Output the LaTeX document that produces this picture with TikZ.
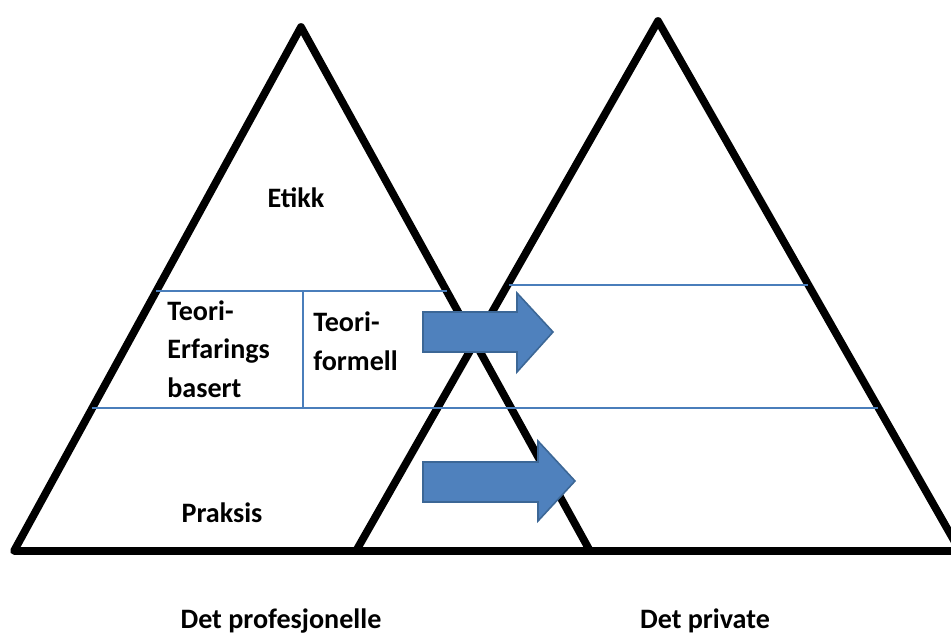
\documentclass[tikz,border=0pt]{standalone}
\usepackage{fontspec}
\setmainfont{Carlito}
\definecolor{levelblue}{HTML}{4A7EBB}
\definecolor{arrowblue}{HTML}{4F81BD}
\definecolor{arrowedge}{HTML}{3C6796}
\tikzset{
  pyramid/.style={line width=4.4pt, line join=round},
  level/.style={draw=levelblue, line width=1.4pt},
  shiftarrow/.style={fill=arrowblue, draw=arrowedge, line width=0.9pt},
  lbl/.style={font=\bfseries\fontsize{16}{21.8}\selectfont, inner sep=0pt},
}

\begin{document}
\begin{tikzpicture}[x=0.02cm, y=-0.02cm]
\clip (0,0) rectangle (951,635);

\draw[pyramid] (301,27) -- (590,551) -- (14,551) -- cycle;
\draw[pyramid] (658,21) -- (960,551) -- (356,551) -- cycle;

\draw[level] (156,291) -- (447,291);
\draw[level] (509,285) -- (808,285);
\draw[level] (92,408) -- (878,408);
\draw[level] (303,291) -- (303,408);

\node[lbl, anchor=base] (etikk) at (296,208) {Etikk};
\node[lbl, anchor=base west, align=left] (erfaring) at (167,397) {Teori-\\Erfarings\\basert};
\node[lbl, anchor=base west, align=left] (formell) at (313,370) {Teori-\\formell};
\node[lbl, anchor=base] (praksis) at (222,522) {Praksis};

\node[lbl, anchor=base] (profesjonelle) at (281,628) {Det profesjonelle};
\node[lbl, anchor=base] (private) at (705,628) {Det private};

\draw[shiftarrow] (423,312) -- (517,312) -- (517,293) -- (553,332) -- (517,372)
  -- (517,352) -- (423,352) -- cycle;
\draw[shiftarrow] (423,462) -- (538,462) -- (538,441) -- (575,481) -- (538,521)
  -- (538,502) -- (423,502) -- cycle;
\end{tikzpicture}
\end{document}
